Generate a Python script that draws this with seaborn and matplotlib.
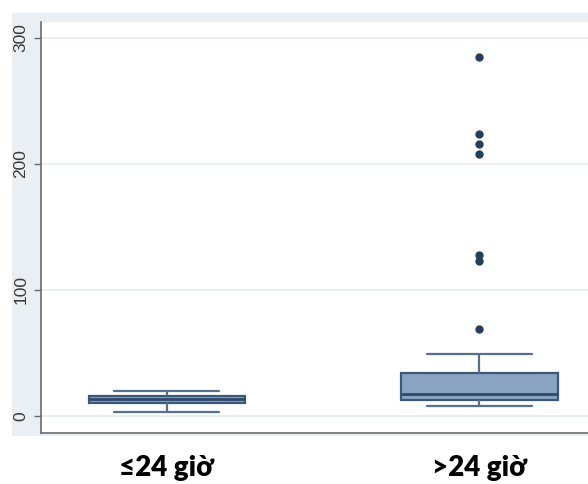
import matplotlib
matplotlib.use("Agg")
import matplotlib.pyplot as plt
import seaborn as sns
import pandas as pd
from matplotlib.patches import Rectangle

# ---- data ----
categories = ["≤24 giờ", ">24 giờ"]
group_le24 = [3.4, 6, 8, 9, 10, 10.6, 11, 12, 12, 13, 13.2, 14, 14, 15, 15.5,
              16.1, 17, 17, 18, 19, 19.8]
group_gt24 = [8.2, 9, 9, 10, 10, 11, 11, 12, 12, 12, 12.4, 13, 14, 14, 15, 15,
              16, 16, 17, 17, 17.5, 19, 20, 22, 24, 25, 27, 29, 31, 32, 33.9,
              36, 40, 49.5, 69, 123, 128, 208, 216, 224, 285]
y_ticks = [0, 100, 200, 300]

df = pd.DataFrame({
    "group": [categories[0]] * len(group_le24) + [categories[1]] * len(group_gt24),
    "value": group_le24 + group_gt24,
})

sns.set_style("white")
fig = plt.figure(figsize=(5.88, 4.84), dpi=100)

# Stata-like light graph-region band
fig.patches.append(Rectangle((12 / 588, 1 - 436 / 484), 1 - 12 / 588, (436 - 13) / 484,
                             transform=fig.transFigure, facecolor="#e9eff2",
                             edgecolor="none", zorder=-5))

ax = fig.add_axes([40.7 / 588, 1 - 433 / 484, 1 - 40.7 / 588, (433 - 22) / 484])
ax.set_zorder(1)
ax.set_facecolor("white")

edge = "#3b5878"
sns.boxplot(data=df, x="group", y="value", order=categories, ax=ax,
            width=0.5, color="#8aa3c2", saturation=1, linecolor=edge,
            linewidth=1.6,
            medianprops=dict(color="#2c4a6c", linewidth=2),
            whiskerprops=dict(color="#556f8c", linewidth=1.6),
            capprops=dict(color="#556f8c", linewidth=1.6),
            flierprops=dict(marker="o", markersize=5, markerfacecolor="#243e5e",
                            markeredgecolor="#243e5e"),
            capwidths=0.335)

ax.set_xlim(-0.403, 1.347)
ax.set_ylim(-13.5, 312.7)
ax.set_yticks(y_ticks)
ax.yaxis.grid(True, color="#e6eef0", linewidth=1.2)
ax.set_axisbelow(True)

for s in ["top", "right"]:
    ax.spines[s].set_visible(False)
for s in ["left", "bottom"]:
    ax.spines[s].set_color("#6b6b6b")
    ax.spines[s].set_linewidth(1.2)

ax.tick_params(axis="y", direction="out", length=5, width=1, color="#6b6b6b",
               labelsize=12.5, labelcolor="#3a3a3a", pad=4, left=True)
for lab in ax.get_yticklabels():
    lab.set_rotation(90)
    lab.set_va("center")
    lab.set_family(["Liberation Sans", "DejaVu Sans"])

ax.tick_params(axis="x", length=0, pad=16)
for lab in ax.get_xticklabels():
    lab.set_fontsize(20)
    lab.set_fontweight("heavy")
    lab.set_family(["Lato", "DejaVu Sans"])
    lab.set_color("black")

ax.set_xlabel("")
ax.set_ylabel("")

fig.savefig("out.png", dpi=100)
